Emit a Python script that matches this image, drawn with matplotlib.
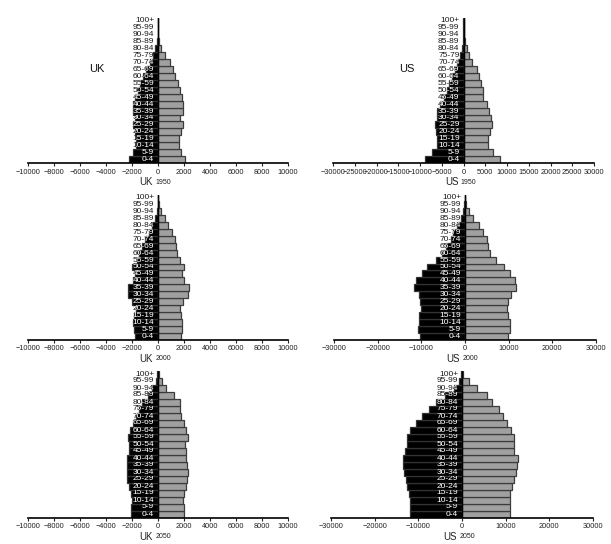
import matplotlib
matplotlib.use("Agg")
import matplotlib.pyplot as plt
import matplotlib.transforms as mtransforms
import numpy as np

plt.rcParams["font.family"] = ["Liberation Sans", "DejaVu Sans"]

ages = ["0-4", "5-9", "10-14", "15-19", "20-24", "25-29", "30-34", "35-39",
        "40-44", "45-49", "50-54", "55-59", "60-64", "65-69", "70-74",
        "75-79", "80-84", "85-89", "90-94", "95-99", "100+"]

# population in thousands, youngest age group first
uk1950_male = [2200, 1900, 1700, 1700, 1800, 1900, 1750, 1900, 1900, 1750, 1550,
               1350, 1150, 900, 600, 380, 200, 70, 20, 5, 0]
uk1950_female = [2080, 1750, 1620, 1620, 1750, 1900, 1680, 1900, 1900, 1830, 1700,
                 1500, 1320, 1120, 920, 550, 250, 80, 30, 8, 1]
us1950_male = [8900, 7200, 6100, 6000, 6400, 6600, 6200, 6000, 5400, 4500, 3900,
               3400, 2700, 2000, 1400, 850, 450, 200, 70, 20, 2]
us1950_female = [8500, 6700, 5700, 5700, 6200, 6500, 6300, 5900, 5400, 4400, 4450,
                 4000, 3450, 3000, 1900, 1200, 700, 350, 100, 30, 5]
uk2000_male = [1800, 1870, 1920, 1850, 1720, 1970, 2300, 2300, 1920, 1800, 1970,
               1600, 1460, 1200, 970, 720, 460, 260, 100, 20, 2]
uk2000_female = [1740, 1850, 1870, 1800, 1720, 1920, 2300, 2380, 2000, 1870, 2000,
                 1670, 1490, 1360, 1280, 1100, 770, 540, 260, 80, 10]
us2000_male = [10300, 10700, 10600, 10500, 10100, 10200, 10600, 11600, 11200, 9900,
               8600, 6700, 5200, 4400, 3300, 2700, 1800, 1000, 450, 120, 20]
us2000_female = [9800, 10200, 10200, 9900, 9600, 9800, 10600, 11600, 11500, 10300,
                 8900, 7100, 5700, 5200, 5000, 4200, 3200, 1900, 1000, 250, 50]
uk2050_male = [2100, 2050, 2000, 2100, 2200, 2380, 2380, 2350, 2350, 2220, 2220,
               2300, 2170, 1920, 1660, 1450, 1200, 770, 430, 180, 50]
uk2050_female = [1970, 1970, 1920, 2000, 2120, 2220, 2300, 2250, 2170, 2120, 2100,
                 2300, 2170, 2000, 1800, 1710, 1660, 1230, 640, 330, 60]
us2050_male = [11800, 11800, 12000, 12100, 12500, 12900, 13300, 13500, 13500, 13100,
               12700, 12700, 12000, 10600, 9100, 7600, 6000, 3800, 1900, 760, 200]
us2050_female = [10900, 10900, 10900, 11100, 11500, 11900, 12300, 12700, 12800, 11900,
                 11900, 11900, 11300, 10400, 9400, 8400, 6900, 5800, 3500, 1500, 300]

panels = [
    ("UK", "1950", uk1950_male, uk1950_female, 10000, 2000),
    ("US", "1950", us1950_male, us1950_female, 30000, 5000),
    ("UK", "2000", uk2000_male, uk2000_female, 10000, 2000),
    ("US", "2000", us2000_male, us2000_female, 30000, 10000),
    ("UK", "2050", uk2050_male, uk2050_female, 10000, 2000),
    ("US", "2050", us2050_male, us2050_female, 30000, 10000),
]

W, H = 611, 544
fig = plt.figure(figsize=(W / 100, H / 100), dpi=100)

# axes boxes in pixels: left, right, top, bottom
boxes = [
    (28, 288, 17.5, 163), (333, 594, 17.5, 163),
    (28, 288, 194.5, 339.5), (334, 596, 194.5, 339.5),
    (28, 288, 370.5, 517.5), (331, 593, 370.5, 517.5),
]

y = np.arange(len(ages))
for i, (country, year, male, female, lim, step) in enumerate(panels):
    l, r, t, b = boxes[i]
    ax = fig.add_axes([l / W, (H - b) / H, (r - l) / W, (b - t) / H])
    mbars = ax.barh(y, -np.array(male), height=1.0, color="#000000",
                    edgecolor="#333333", linewidth=0.9)
    ax.barh(y, female, height=1.0, color="#a0a0a0",
            edgecolor="#3c3c3c", linewidth=0.9)
    ax.axvline(0, color="black", linewidth=1.0)
    ax.set_xlim(-lim, lim)
    ax.set_ylim(-0.5, len(ages) - 0.5)
    ticks = np.arange(-lim, lim + 1, step)
    ax.set_xticks(ticks)
    ax.set_xticklabels([f"{v:d}".replace("-", "\u2212") for v in ticks])
    ax.tick_params(axis="x", labelsize=5.3, length=2, width=0.8, pad=2,
                   colors="#222222")
    ax.set_yticks([])
    for s in ("top", "right", "left"):
        ax.spines[s].set_visible(False)
    ax.spines["bottom"].set_linewidth(1.2)

    # age labels: dark on white, white where they sit on the male bar
    lab_tr = ax.transData + mtransforms.ScaledTranslation(-0.04, 0, fig.dpi_scale_trans)
    for k, a in enumerate(ages):
        ax.text(0, k, a, transform=lab_tr, ha="right", va="center",
                fontsize=6, color="#1a1a1a", clip_on=False)
        wt = ax.text(0, k, a, transform=lab_tr, ha="right", va="center",
                     fontsize=6, color="white", clip_on=True)
        wt.set_clip_path(mbars.patches[k])

    bt = mtransforms.blended_transform_factory(ax.transData, ax.transAxes)
    off = mtransforms.ScaledTranslation(0, -0.19, fig.dpi_scale_trans)
    ax.text(-lim * 0.04, 0, country, transform=bt + off, ha="right", va="center",
            fontsize=7, color="#222222")
    ax.text(-lim * 0.02, 0, year, transform=bt + off, ha="left", va="center",
            fontsize=5, color="#222222")

    if year == "1950":
        ax.text(0.265 if country == "UK" else 0.283, 0.646, country,
                transform=ax.transAxes, ha="center", va="center",
                fontsize=8, color="#111111")

fig.savefig("out.png", dpi=100)
